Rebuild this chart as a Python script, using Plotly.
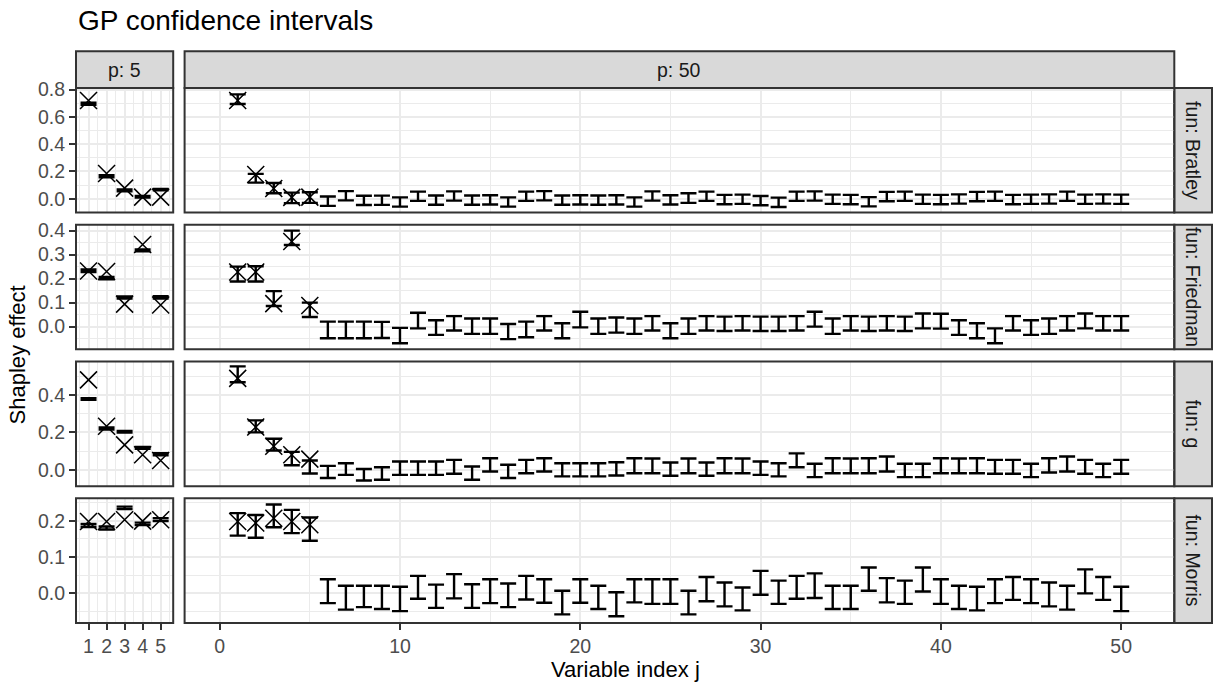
import plotly.graph_objects as go

W, H = 1217, 683

# ---------------- data ----------------
functions = ["Bratley", "Friedman", "g", "Morris"]
p_labels = ["p: 5", "p: 50"]
j_p5 = [1, 2, 3, 4, 5]
j_p50 = list(range(1, 51))
j_true50 = [1, 2, 3, 4, 5]

# Bratley
bratley_p5_lower = [0.688, 0.158, 0.055, 0.008, 0.062]
bratley_p5_upper = [0.705, 0.172, 0.068, 0.020, 0.072]
bratley_p5_true = [0.720, 0.185, 0.078, 0.012, 0.012]
bratley_p50_lower = [0.695, 0.118, 0.040, -0.032, -0.030,
                     -0.052, -0.012, -0.046, -0.045, -0.058,
                     -0.016, -0.044, -0.014, -0.044, -0.042,
                     -0.058, -0.016, -0.012, -0.044, -0.042,
                     -0.044, -0.042, -0.058, -0.014, -0.042,
                     -0.030, -0.016, -0.040, -0.038, -0.048,
                     -0.060, -0.016, -0.014, -0.038, -0.040,
                     -0.056, -0.018, -0.016, -0.038, -0.040,
                     -0.036, -0.018, -0.016, -0.040, -0.038,
                     -0.036, -0.016, -0.038, -0.036, -0.038]
bratley_p50_upper = [0.765, 0.182, 0.115, 0.045, 0.048,
                     0.016, 0.056, 0.022, 0.023, 0.010,
                     0.052, 0.024, 0.054, 0.024, 0.026,
                     0.010, 0.052, 0.056, 0.024, 0.026,
                     0.024, 0.026, 0.010, 0.054, 0.026,
                     0.040, 0.052, 0.028, 0.030, 0.020,
                     0.008, 0.052, 0.054, 0.030, 0.028,
                     0.012, 0.050, 0.052, 0.030, 0.028,
                     0.032, 0.050, 0.052, 0.028, 0.030,
                     0.032, 0.052, 0.030, 0.032, 0.030]
bratley_p50_true = [0.720, 0.178, 0.075, 0.010, 0.012]

# Friedman
friedman_p5_lower = [0.228, 0.197, 0.117, 0.314, 0.117]
friedman_p5_upper = [0.238, 0.207, 0.126, 0.322, 0.127]
friedman_p5_true = [0.232, 0.230, 0.094, 0.342, 0.090]
friedman_p50_lower = [0.188, 0.188, 0.086, 0.340, 0.040,
                      -0.048, -0.048, -0.048, -0.047, -0.069,
                      -0.007, -0.034, -0.016, -0.030, -0.030,
                      -0.052, -0.044, -0.016, -0.048, -0.003,
                      -0.030, -0.025, -0.030, -0.016, -0.048,
                      -0.030, -0.016, -0.018, -0.016, -0.018,
                      -0.018, -0.016, 0.000, -0.030, -0.016,
                      -0.018, -0.016, -0.018, -0.007, -0.008,
                      -0.034, -0.048, -0.069, -0.016, -0.034,
                      -0.030, -0.016, -0.007, -0.016, -0.016]
friedman_p50_upper = [0.250, 0.252, 0.148, 0.400, 0.100,
                      0.021, 0.021, 0.021, 0.020, -0.005,
                      0.058, 0.027, 0.044, 0.034, 0.034,
                      0.011, 0.021, 0.044, 0.014, 0.062,
                      0.034, 0.038, 0.034, 0.044, 0.014,
                      0.034, 0.044, 0.042, 0.044, 0.042,
                      0.042, 0.044, 0.062, 0.034, 0.044,
                      0.042, 0.044, 0.042, 0.055, 0.054,
                      0.027, 0.014, -0.007, 0.044, 0.027,
                      0.034, 0.044, 0.055, 0.044, 0.044]
friedman_p50_true = [0.228, 0.228, 0.096, 0.355, 0.088]

# g
g_p5_lower = [0.374, 0.215, 0.199, 0.112, 0.078]
g_p5_upper = [0.382, 0.226, 0.207, 0.122, 0.089]
g_p5_true = [0.480, 0.232, 0.133, 0.080, 0.050]
g_p50_lower = [0.467, 0.200, 0.103, 0.024, -0.020,
               -0.044, -0.027, -0.057, -0.053, -0.027,
               -0.027, -0.027, -0.021, -0.053, -0.009,
               -0.044, -0.018, -0.009, -0.035, -0.035,
               -0.035, -0.030, -0.018, -0.018, -0.032,
               -0.018, -0.032, -0.018, -0.018, -0.027,
               -0.035, 0.014, -0.039, -0.018, -0.018,
               -0.018, -0.009, -0.039, -0.039, -0.018,
               -0.018, -0.018, -0.021, -0.021, -0.039,
               -0.014, -0.009, -0.021, -0.039, -0.021]
g_p50_upper = [0.552, 0.264, 0.166, 0.096, 0.050,
               0.021, 0.035, 0.004, 0.014, 0.044,
               0.044, 0.044, 0.053, 0.018, 0.062,
               0.027, 0.053, 0.062, 0.035, 0.035,
               0.035, 0.040, 0.062, 0.060, 0.039,
               0.060, 0.039, 0.062, 0.060, 0.044,
               0.035, 0.088, 0.032, 0.062, 0.060,
               0.062, 0.071, 0.032, 0.032, 0.062,
               0.060, 0.062, 0.053, 0.053, 0.032,
               0.062, 0.071, 0.053, 0.032, 0.053]
g_p50_true = [0.488, 0.228, 0.126, 0.080, 0.057]

# Morris
morris_p5_lower = [0.183, 0.176, 0.232, 0.188, 0.199]
morris_p5_upper = [0.191, 0.184, 0.239, 0.195, 0.207]
morris_p5_true = [0.198, 0.198, 0.203, 0.199, 0.203]
morris_p50_lower = [0.159, 0.153, 0.182, 0.166, 0.145,
                    -0.027, -0.045, -0.038, -0.043, -0.049,
                    -0.015, -0.040, -0.014, -0.040, -0.027,
                    -0.038, -0.017, -0.026, -0.058, -0.026,
                    -0.043, -0.063, -0.025, -0.029, -0.029,
                    -0.058, -0.022, -0.036, -0.047, -0.004,
                    -0.029, -0.015, -0.013, -0.043, -0.043,
                    0.007, -0.025, -0.029, 0.005, -0.029,
                    -0.043, -0.047, -0.027, -0.018, -0.027,
                    -0.036, -0.045, 0.000, -0.018, -0.049]
morris_p50_upper = [0.221, 0.216, 0.245, 0.230, 0.209,
                    0.039, 0.021, 0.021, 0.021, 0.018,
                    0.048, 0.024, 0.053, 0.025, 0.039,
                    0.027, 0.048, 0.039, 0.007, 0.039,
                    0.021, 0.003, 0.039, 0.039, 0.039,
                    0.007, 0.045, 0.030, 0.016, 0.062,
                    0.035, 0.048, 0.055, 0.021, 0.021,
                    0.071, 0.042, 0.035, 0.071, 0.039,
                    0.021, 0.018, 0.039, 0.045, 0.039,
                    0.030, 0.021, 0.066, 0.045, 0.018]
morris_p50_true = [0.198, 0.194, 0.207, 0.198, 0.189]

# y-axis settings per row (tick values)
row_tickvals = [[0.0, 0.2, 0.4, 0.6, 0.8],
                [0.0, 0.1, 0.2, 0.3, 0.4],
                [0.0, 0.2, 0.4],
                [0.0, 0.1, 0.2]]
row_minorvals = [[-0.1, 0.1, 0.3, 0.5, 0.7],
                 [-0.05, 0.05, 0.15, 0.25, 0.35],
                 [-0.1, 0.1, 0.3, 0.5],
                 [-0.05, 0.05, 0.15, 0.25]]
row_ranges = [[-0.1015, 0.8123], [-0.0945, 0.4247], [-0.087, 0.578], [-0.0815, 0.262]]

col_tickvals = [[1, 2, 3, 4, 5], [0, 10, 20, 30, 40, 50]]
col_minorvals = [[0.5, 1.5, 2.5, 3.5, 4.5, 5.5], [5, 15, 25, 35, 45]]
col_ranges = [[0.305, 5.695], [-1.945, 52.945]]

data = {
    "Bratley": [(j_p5, bratley_p5_lower, bratley_p5_upper, j_p5, bratley_p5_true),
                (j_p50, bratley_p50_lower, bratley_p50_upper, j_true50, bratley_p50_true)],
    "Friedman": [(j_p5, friedman_p5_lower, friedman_p5_upper, j_p5, friedman_p5_true),
                 (j_p50, friedman_p50_lower, friedman_p50_upper, j_true50, friedman_p50_true)],
    "g": [(j_p5, g_p5_lower, g_p5_upper, j_p5, g_p5_true),
          (j_p50, g_p50_lower, g_p50_upper, j_true50, g_p50_true)],
    "Morris": [(j_p5, morris_p5_lower, morris_p5_upper, j_p5, morris_p5_true),
               (j_p50, morris_p50_lower, morris_p50_upper, j_true50, morris_p50_true)],
}

# ---------------- layout geometry (pixels) ----------------
col_px = [(76.0, 173.2), (184.6, 1174.3)]
row_px = [(80.0, 206.3), (218.6, 344.9), (357.2, 483.5), (495.8, 622.1)]
strip_top = (42.7, 80.0)
strip_right = (1174.3, 1212.0)

FONT = "Liberation Sans, Arial, Helvetica, sans-serif"
BORDER = "#333333"
GRID = "#EBEBEB"


def fx(px):
    return px / W


def fy(py):
    return 1 - py / H


fig = go.Figure()
layout = dict(
    width=W, height=H, autosize=False,
    margin=dict(l=0, r=0, t=0, b=0),
    paper_bgcolor="white", plot_bgcolor="white",
    showlegend=False,
    font=dict(family=FONT, color="black"),
)

shapes = []
annotations = []

for r, fun in enumerate(functions):
    for c in range(2):
        k = r * 2 + c + 1
        xname = "x" if k == 1 else f"x{k}"
        yname = "y" if k == 1 else f"y{k}"
        xs, lo, hi, xt, tv = data[fun][c]
        mid = [(a + b) / 2 for a, b in zip(lo, hi)]
        half = [(b - a) / 2 for a, b in zip(lo, hi)]
        fig.add_trace(go.Scatter(
            x=xs, y=mid, mode="markers",
            marker=dict(size=1, color="rgba(0,0,0,0)"),
            error_y=dict(type="data", array=half, symmetric=True,
                         color="black", thickness=2.4, width=8),
            xaxis=xname, yaxis=yname, hoverinfo="skip"))
        fig.add_trace(go.Scatter(
            x=xt, y=tv, mode="markers",
            marker=dict(symbol="x-thin", size=17,
                        line=dict(color="black", width=1.5)),
            xaxis=xname, yaxis=yname, hoverinfo="skip"))

        bottom = (r == len(functions) - 1)
        left = (c == 0)
        xa = dict(
            domain=[fx(col_px[c][0]), fx(col_px[c][1])],
            anchor=yname, range=col_ranges[c],
            tickmode="array", tickvals=col_tickvals[c],
            showgrid=True, gridcolor=GRID, gridwidth=1.8,
            minor=dict(tickvals=col_minorvals[c], showgrid=True,
                       gridcolor=GRID, gridwidth=0.9),
            zeroline=False, showline=False,
            ticks="outside" if bottom else "", ticklen=6, tickwidth=2,
            tickcolor=BORDER, showticklabels=bottom,
            tickfont=dict(family=FONT, size=19.5, color="#4D4D4D"),
        )
        ya = dict(
            domain=[fy(row_px[r][1]), fy(row_px[r][0])],
            anchor=xname, range=row_ranges[r],
            tickmode="array", tickvals=row_tickvals[r], tickformat=".1f",
            showgrid=True, gridcolor=GRID, gridwidth=1.8,
            minor=dict(tickvals=row_minorvals[r], showgrid=True,
                       gridcolor=GRID, gridwidth=0.9),
            zeroline=False, showline=False,
            ticks="outside" if left else "", ticklen=6, tickwidth=2,
            tickcolor=BORDER, showticklabels=left,
            tickfont=dict(family=FONT, size=19.5, color="#4D4D4D"),
        )
        layout["xaxis" if k == 1 else f"xaxis{k}"] = xa
        layout["yaxis" if k == 1 else f"yaxis{k}"] = ya

        # panel border
        shapes.append(dict(type="rect", xref="paper", yref="paper",
                           x0=fx(col_px[c][0]), x1=fx(col_px[c][1]),
                           y0=fy(row_px[r][1]), y1=fy(row_px[r][0]),
                           line=dict(color=BORDER, width=2),
                           fillcolor="rgba(0,0,0,0)", layer="above"))

# top strips
for c in range(2):
    shapes.append(dict(type="rect", xref="paper", yref="paper",
                       x0=fx(col_px[c][0]), x1=fx(col_px[c][1]),
                       y0=fy(strip_top[1]), y1=fy(strip_top[0]),
                       line=dict(color=BORDER, width=2),
                       fillcolor="#D9D9D9", layer="below"))
    annotations.append(dict(text=p_labels[c], xref="paper", yref="paper",
                            x=fx((col_px[c][0] + col_px[c][1]) / 2),
                            y=fy((strip_top[0] + strip_top[1]) / 2),
                            xanchor="center", yanchor="middle", showarrow=False,
                            font=dict(family=FONT, size=19.5, color="#1A1A1A")))

# right strips
for r, fun in enumerate(functions):
    shapes.append(dict(type="rect", xref="paper", yref="paper",
                       x0=fx(strip_right[0]), x1=fx(strip_right[1]),
                       y0=fy(row_px[r][1]), y1=fy(row_px[r][0]),
                       line=dict(color=BORDER, width=2),
                       fillcolor="#D9D9D9", layer="below"))
    annotations.append(dict(text=f"fun: {fun}", xref="paper", yref="paper",
                            x=fx((strip_right[0] + strip_right[1]) / 2),
                            y=fy((row_px[r][0] + row_px[r][1]) / 2),
                            xanchor="center", yanchor="middle", showarrow=False,
                            textangle=90,
                            font=dict(family=FONT, size=19.5, color="#1A1A1A")))

# title and axis titles
annotations.append(dict(text="GP confidence intervals", xref="paper", yref="paper",
                        x=fx(76), y=fy(12), xanchor="left", yanchor="middle",
                        showarrow=False,
                        font=dict(family=FONT, size=28, color="black")))
annotations.append(dict(text="Variable index j", xref="paper", yref="paper",
                        x=fx((col_px[0][0] + col_px[1][1]) / 2), y=fy(669),
                        xanchor="center", yanchor="middle", showarrow=False,
                        font=dict(family=FONT, size=22, color="black")))
annotations.append(dict(text="Shapley effect", xref="paper", yref="paper",
                        x=fx(17), y=fy((row_px[0][0] + row_px[3][1]) / 2),
                        xanchor="center", yanchor="middle", showarrow=False,
                        textangle=-90,
                        font=dict(family=FONT, size=22, color="black")))

layout["shapes"] = shapes
layout["annotations"] = annotations
fig.update_layout(**layout)
fig.write_html("out.html")
